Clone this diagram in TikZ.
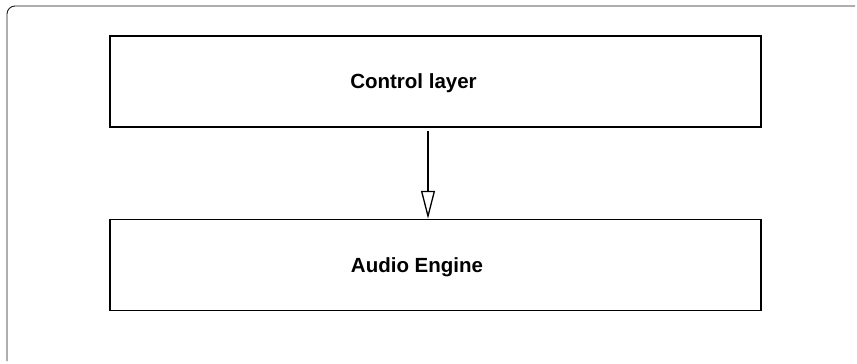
\documentclass[tikz,border=0pt]{standalone}
\usepackage{fontspec}
\setmainfont{Liberation Sans}
\usetikzlibrary{arrows.meta,positioning}

\begin{document}
\begin{tikzpicture}[
x=1pt, y=1pt,
node distance=91pt,
camada/.style={
rectangle,
draw,
line width=1.5pt,
minimum width=651pt,
minimum height=91pt,
inner sep=0pt
},
rotulo/.style={
font=\fontsize{20.5}{24}\selectfont\bfseries,
inner sep=0pt
},
moldura/.style={draw=black!90, line width=0.9pt, rounded corners=8pt},
seta/.style={-{Triangle[open, length=28pt, width=14pt]}, line width=1.3pt}
]
\useasboundingbox (0,0) rectangle (857,-364);

\draw[moldura] (855,-6) -- (7,-6) -- (7,-361);

\node[camada] (ctrl) at (435.5,-81.5) {};
\node[camada, below=of ctrl] (audio) {};

\node[rotulo] (ctrltxt) at ([xshift=-22pt,yshift=-2pt]ctrl.center) {Control layer};
\node[rotulo] (audiotxt) at ([xshift=-18.5pt,yshift=-2pt]audio.center) {Audio Engine};

\draw[seta] ([xshift=-7.5pt,yshift=-3pt]ctrl.south) -- ([xshift=-7.5pt]audio.north);

\end{tikzpicture}
\end{document}
